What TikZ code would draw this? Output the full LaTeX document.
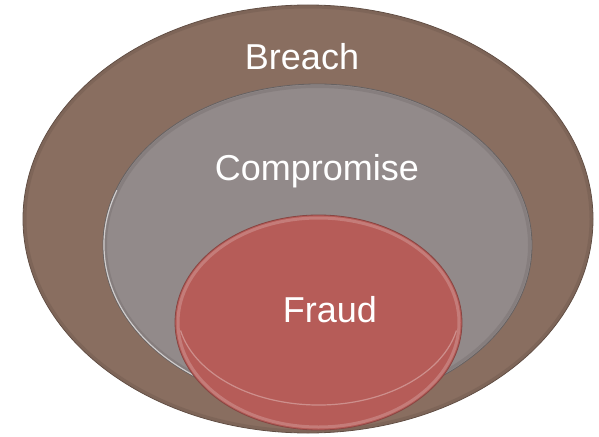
\documentclass[tikz,border=0pt]{standalone}
\usepackage{fontspec}
\setmainfont{Liberation Sans}
\definecolor{breachbrown}{RGB}{137, 110, 96}
\definecolor{compgray}{RGB}{146, 138, 138}
\definecolor{fraudred}{RGB}{182, 92, 88}
\begin{document}
\begin{tikzpicture}[x=1pt, y=-1pt,
  ringlabel/.style={text=white, anchor=base, inner sep=0pt, font=\fontsize{36}{40}\selectfont}]
  \useasboundingbox (0,0) rectangle (599,436);

  % Outer ring: breach
  \fill[breachbrown] (308,219) ellipse [x radius=285, y radius=214];
  \draw[breachbrown!85!black, line width=3, opacity=0.5] (308,219) ellipse [x radius=283, y radius=212];
  \draw[breachbrown!70!black, line width=0.8] (308,219) ellipse [x radius=285, y radius=214];
  \node[ringlabel] (breach) at (302,70) {Breach};

  % Middle ring: compromise
  \fill[compgray] (317.5,245) ellipse [x radius=214.5, y radius=161];
  \draw[compgray!80!black, line width=3, opacity=0.4] (317.5,245) ellipse [x radius=212, y radius=158.5];
  \draw[compgray!70!black, line width=0.8] (317.5,245) ellipse [x radius=214.5, y radius=161];
  % light edge on the lower left
  \draw[white, line width=1.2, opacity=0.6] (317.5,245) ++(200:213.5 and 160) arc [start angle=200, end angle=115, x radius=213.5, y radius=160];
  \node[ringlabel] (compromise) at (317,180) {Compromise};

  % Inner disc: fraud
  \fill[fraudred] (318.5,322.5) ellipse [x radius=143.5, y radius=107.5];
  \draw[fraudred!60!white, line width=3, opacity=0.5] (318.5,322.5) ellipse [x radius=140.5, y radius=104.5];
  \draw[fraudred!75!black, line width=0.8] (318.5,322.5) ellipse [x radius=143.5, y radius=107.5];
  % lower rim of the disc face
  \draw[fraudred!55!white, line width=1.2, opacity=0.7] (318.5,311) ++(12:141 and 94) arc [start angle=12, end angle=168, x radius=141, y radius=94];
  \node[ringlabel] (fraud) at (330,322) {Fraud};
\end{tikzpicture}
\end{document}
